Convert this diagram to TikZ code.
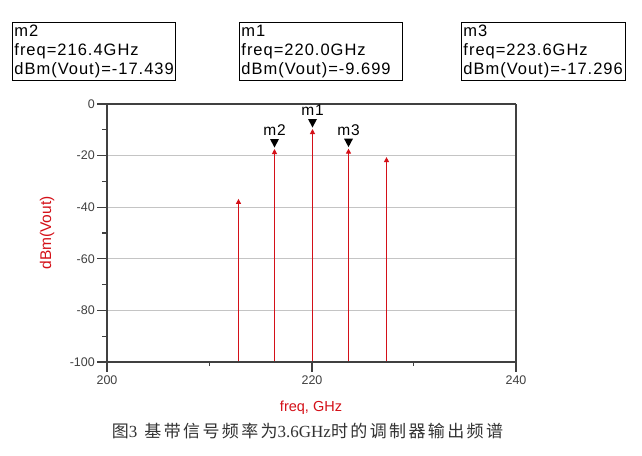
\documentclass[tikz,border=0pt]{standalone}
\usepackage{fontspec}
\setmainfont{Liberation Sans}
\newfontfamily\boxfont[LetterSpace=6]{Liberation Sans}
\newfontfamily\cjk[LetterSpace=14]{Noto Sans CJK SC}
\newfontfamily\serifn{Liberation Serif}
\usetikzlibrary{arrows.meta}
\definecolor{plotred}{RGB}{212,16,24}
\definecolor{axgray}{RGB}{64,64,64}
\definecolor{gridgray}{RGB}{196,196,196}
\begin{document}
\begin{tikzpicture}[x=1pt,y=-1pt,
  mbox/.style={draw=black,line width=0.9pt,anchor=north west,text width=159pt,inner sep=2pt,align=left,
     font=\boxfont\fontsize{16.5}{18.8}\selectfont,minimum height=58pt},
  ytick/.style={anchor=east,font=\fontsize{12.5}{14}\selectfont,text=axgray,inner sep=0pt},
  xtick/.style={anchor=center,font=\fontsize{12.5}{14}\selectfont,text=axgray,inner sep=0pt},
  spec/.style={plotred,line width=1pt,-{Triangle[length=5pt,width=5pt]}},
  mlabel/.style={font=\boxfont\fontsize{15.5}{17}\selectfont,inner sep=0pt},
  gridl/.style={gridgray,line width=1pt},
  axl/.style={axgray,line width=1.3pt}]
\useasboundingbox (0,0) rectangle (642,455);
\fill[white] (0,0) rectangle (642,455);
% marker boxes
\node[mbox] (bm2) at (12,22) {m2\\freq=216.4GHz\\dBm(Vout)=-17.439};
\node[mbox] (bm1) at (239,22) {m1\\freq=220.0GHz\\dBm(Vout)=-9.699};
\node[mbox,text width=160pt] (bm3) at (461,22) {m3\\freq=223.6GHz\\dBm(Vout)=-17.296};
% grid
\foreach \yy in {155.5,207.5,258.5,310.5}
  \draw[gridl] (107,\yy) -- (516,\yy);
% frame
\draw[axl] (107,104) -- (516,104);
\draw[axl] (516,104) -- (516,372);
\draw[axl] (107,104) -- (107,372);
\draw[axl] (107,362) -- (516,362);
\draw[axl] (312,362) -- (312,372);
\draw[axl] (209.5,362) -- (209.5,366);
\draw[axl] (413.5,362) -- (413.5,366);
% y ticks
\foreach \yy in {104,155.5,207.5,258.5,310.5,362}
  \draw[axl] (97,\yy) -- (107,\yy);
\foreach \yy in {129.5,181.5,233,284.5,336.5}
  \draw[axl] (102,\yy) -- (107,\yy);
\node[ytick] (t0) at (95,104) {0};
\node[ytick] (t20) at (95,155.6) {-20};
\node[ytick] (t40) at (95,207.2) {-40};
\node[ytick] (t60) at (95,258.8) {-60};
\node[ytick] (t80) at (95,310.4) {-80};
\node[ytick] (t100) at (95,362) {-100};
\node[xtick] (x200) at (107,380) {200};
\node[xtick] (x220) at (312,380) {220};
\node[xtick] (x240) at (516,380) {240};
% axis labels
\node[text=plotred,font=\fontsize{15.5}{17}\selectfont,rotate=90] (ylab) at (47,233) {dBm(Vout)};
\node[text=plotred,font=\fontsize{14.5}{16}\selectfont] (xlab) at (311,408) {freq, GHz};
% spectral lines
\coordinate (b1) at (238.5,361); \coordinate (p1) at (238.5,198.9);
\coordinate (b2) at (274.5,361); \coordinate (p2) at (274.5,149.0);
\coordinate (b3) at (312.5,361); \coordinate (p3) at (312.5,129.0);
\coordinate (b4) at (348.5,361); \coordinate (p4) at (348.5,148.6);
\coordinate (b5) at (386.5,361); \coordinate (p5) at (386.5,157.1);
\foreach \i in {1,...,5} \draw[spec] (b\i) -- (p\i);
% markers
\foreach \xx/\yy/\nm in {274.5/149.0/m2,312.5/129.0/m1,348.5/148.6/m3}{
  \fill[black] (\xx-4.5,\yy-10) -- (\xx+4.5,\yy-10) -- (\xx,\yy-1.5) -- cycle;
  \node[mlabel] (lab\nm) at (\xx,\yy-18.5) {\nm};
}
% caption
\node[inner sep=0pt,text=black!80] (cap) at (307.5,431) {\fontsize{17}{18}\selectfont\cjk 图{\serifn 3}\hspace{7pt}基带信号频率为{\serifn 3.6GHz}时的调制器输出频谱};
\end{tikzpicture}
\end{document}
